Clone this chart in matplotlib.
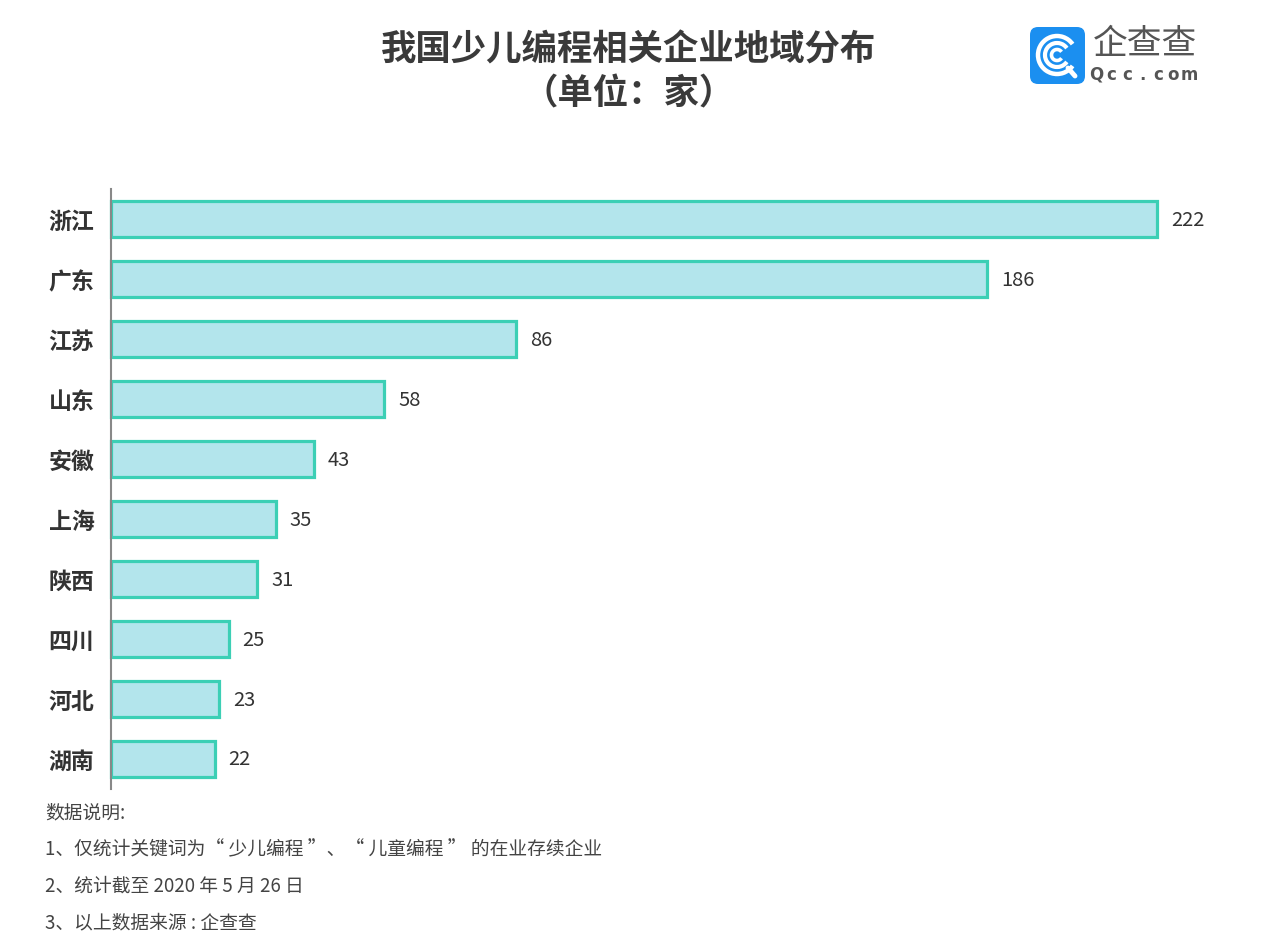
import matplotlib
matplotlib.use("Agg")
import matplotlib.pyplot as plt
from matplotlib.patches import FancyBboxPatch, Arc

plt.rcParams['font.family'] = ['Noto Sans CJK SC', 'DejaVu Sans']

# 数据
provinces = ['浙江', '广东', '江苏', '山东', '安徽', '上海', '陕西', '四川', '河北', '湖南']
counts = [222, 186, 86, 58, 43, 35, 31, 25, 23, 22]
notes = ['数据说明:',
         '1、仅统计关键词为“ 少儿编程 ”、“ 儿童编程 ” 的在业存续企业',
         '2、统计截至 2020 年 5 月 26 日',
         '3、以上数据来源 : 企查查']

W, H = 1268, 945
fig = plt.figure(figsize=(W / 100, H / 100), dpi=100)

# 主图区域
ax = fig.add_axes([111 / W, (H - 790) / H, (1157 - 111) / W, 600 / H])
ypos = list(range(len(provinces)))
ax.barh(ypos, counts, height=0.6, color='#b3e5ec', edgecolor='#3ccfb5',
        linewidth=2.3, clip_on=False)
ax.set_xlim(0, 222)
ax.set_ylim(len(provinces) - 0.5, -0.5)
ax.set_yticks(ypos)
ax.set_yticklabels(provinces, fontsize=16.5, fontweight='bold', color='#333333')
ax.tick_params(axis='y', length=0, pad=12)
ax.set_xticks([])
for s in ['top', 'right', 'bottom']:
    ax.spines[s].set_visible(False)
ax.spines['left'].set_color('#888888')
ax.spines['left'].set_linewidth(1.5)

for y, v in zip(ypos, counts):
    ax.annotate(str(v), (v, y), xytext=(10, 0), textcoords='offset points',
                va='center', ha='left', fontsize=14.5, color='#333333',
                fontweight='medium', annotation_clip=False)

# 标题
fig.text(629 / W, 1 - 50 / H, '我国少儿编程相关企业地域分布', ha='center', va='center',
         fontsize=25.5, fontweight='bold', color='#3a3a3a')
fig.text(629 / W, 1 - 94 / H, '（单位：家）', ha='center', va='center',
         fontsize=25.5, fontweight='bold', color='#3a3a3a')

# 企查查 logo
lx, ly = 1030, 28
lax = fig.add_axes([lx / W, 1 - (ly + 57) / H, 55 / W, 57 / H])
lax.set_xlim(0, 55)
lax.set_ylim(0, 57)
lax.axis('off')
lax.add_patch(FancyBboxPatch((0, 0), 55, 57, boxstyle='round,pad=0,rounding_size=8',
                             facecolor='#1b8ff0', edgecolor='none'))
cx, cy = 27, 29
for r, lw in [(19, 3.2), (12, 3.0), (5.5, 2.6)]:
    lax.add_patch(Arc((cx, cy), 2 * r, 2 * r, theta1=35, theta2=325,
                      color='white', lw=lw))
lax.plot([38, 45], [16, 8], color='white', lw=3.5, solid_capstyle='round')
fig.text(1093 / W, 1 - 44 / H, '企查查', ha='left', va='center',
         fontsize=25, color='#555555')
for i, ch in enumerate('Qcc.com'):
    fig.text((1096 + i * 15.5) / W, 1 - 75 / H, ch, ha='center', va='center',
             fontsize=12, color='#555555', fontweight='bold',
             family='DejaVu Sans')
# 注释
for i, t in enumerate(notes):
    fig.text(45 / W, 1 - (813 + i * 36.5) / H, t, ha='left', va='center',
             fontsize=13.5, color='#444444')

fig.savefig('out.png', dpi=100, facecolor='white')
